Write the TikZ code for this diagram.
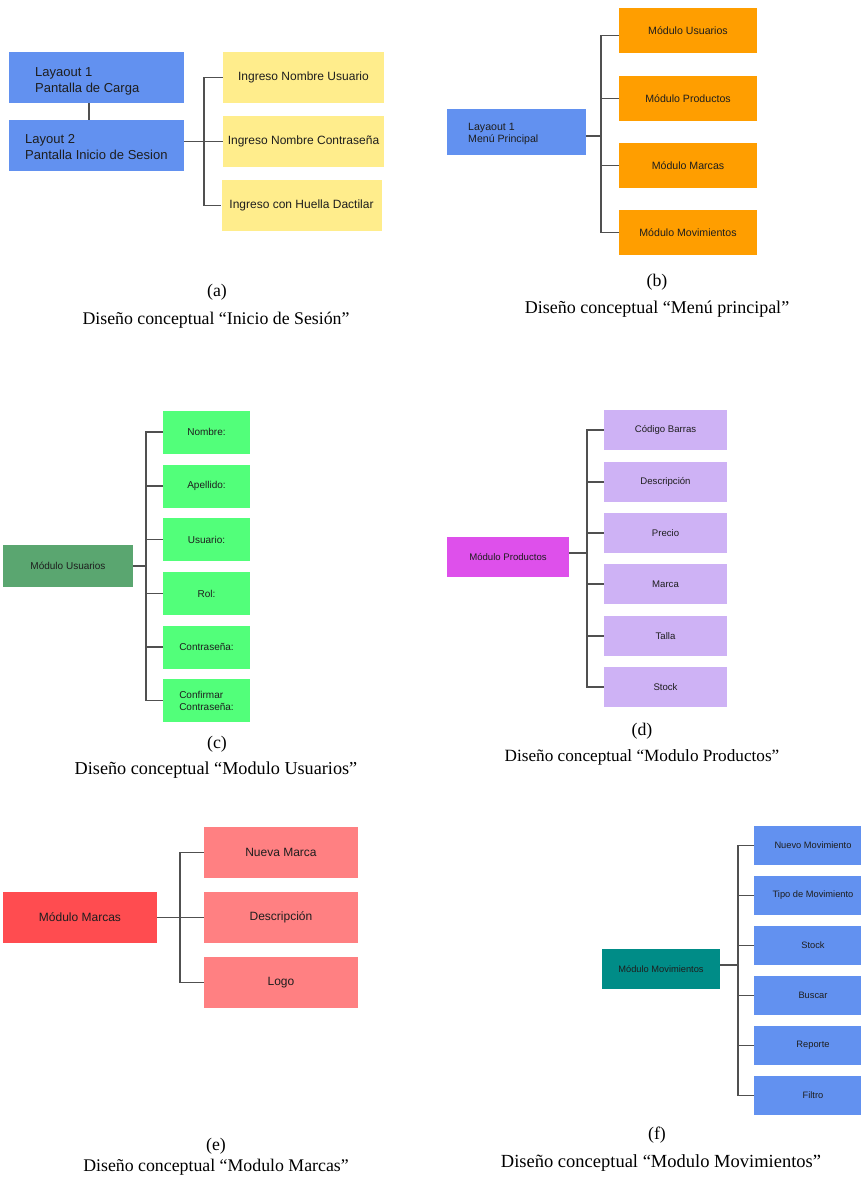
\documentclass[tikz,border=0pt]{standalone}
\usepackage{fontspec}
\setmainfont{Liberation Serif}
\setsansfont{Liberation Sans}
\usetikzlibrary{calc}
\definecolor{cblue}{RGB}{98,145,240}
\definecolor{cyellow}{RGB}{255,237,140}
\definecolor{corange}{RGB}{255,158,0}
\definecolor{cdgreen}{RGB}{90,166,112}
\definecolor{cgreen}{RGB}{82,255,122}
\definecolor{cmagenta}{RGB}{222,80,235}
\definecolor{clav}{RGB}{206,178,245}
\definecolor{cred}{RGB}{255,76,80}
\definecolor{cpink}{RGB}{255,128,130}
\definecolor{cteal}{RGB}{0,140,135}
\definecolor{linegray}{RGB}{80,80,80}
\definecolor{txt}{RGB}{30,30,30}
\begin{document}
\begin{tikzpicture}[x=1pt,y=-1pt,
  conn/.style={draw=linegray, line width=1.6pt},
  bx/.style={rectangle, inner sep=0pt, text=txt},
  fa/.style={font=\sffamily\fontsize{13}{16}\selectfont},
  fay/.style={font=\sffamily\fontsize{12}{14}\selectfont},
  fb/.style={font=\sffamily\fontsize{10.6}{12}\selectfont},
  fc/.style={font=\sffamily\fontsize{10}{12}\selectfont},
  fd/.style={font=\sffamily\fontsize{9.6}{12}\selectfont},
  fe/.style={font=\sffamily\fontsize{12}{14}\selectfont},
  ff/.style={font=\sffamily\fontsize{9.3}{12}\selectfont},
  capt/.style={font=\fontsize{17.8}{20}\selectfont, text=black, inner sep=0pt}]
\useasboundingbox[fill=white] (0,0) rectangle (861,1178);
\clip (0,0) rectangle (861,1178);

% ---------------- (a)
\node[bx, fill=cblue, minimum width=175, minimum height=51] (L1) at (96.5,77.5) {};
\node[bx, fa, anchor=west, align=left] (L1t) at (35,81) {Layaout 1\\Pantalla de Carga};
\node[bx, fill=cblue, minimum width=175, minimum height=51] (L2) at (96.5,145.5) {};
\node[bx, fa, anchor=west, align=left] (L2t) at (25,147) {Layout 2\\Pantalla Inicio de Sesion};
\node[bx, fay, fill=cyellow, minimum width=161, minimum height=51] (Y1) at (303.5,77.5) {Ingreso Nombre Usuario};
\node[bx, fay, fill=cyellow, minimum width=161, minimum height=51] (Y2) at (303.5,141.5) {Ingreso Nombre Contraseña};
\node[bx, fay, fill=cyellow, minimum width=160, minimum height=51] (Y3) at (301.5,205.5) {Ingreso con Huella Dactilar};
\draw[conn] ([xshift=-7.5]L1.south) -- ([xshift=-7.5]L2.north);
\draw[conn] (L2.east |- Y2.west) -- (Y2.west);
\draw[conn] (Y1.west) -- ++(-19,0) |- (Y3.west);
\node[capt] (capa) at (217,292) {(a)};
\node[capt] (capa2) at (216,320) {Diseño conceptual “Inicio de Sesión”};

% ---------------- (b)
\node[bx, fill=cblue, minimum width=139, minimum height=46] (M1) at (516.5,132) {};
\node[bx, fb, anchor=west, align=left] (M1t) at (468,134) {Layaout 1\\Menú Principal};
\node[bx, fb, fill=corange, minimum width=138, minimum height=45] (O1) at (688,30.5) {Módulo Usuarios};
\node[bx, fb, fill=corange, minimum width=138, minimum height=45] (O2) at (688,98.5) {Módulo Productos};
\node[bx, fb, fill=corange, minimum width=138, minimum height=45] (O3) at (688,165.5) {Módulo Marcas};
\node[bx, fb, fill=corange, minimum width=138, minimum height=45] (O4) at (688,232.5) {Módulo Movimientos};
\draw[conn] ([yshift=-4]M1.east) -- ++(15,0);
\draw[conn] ([yshift=-5]O1.west) -- ++(-18,0) |- (O4.west);
\draw[conn] (O2.west) -- ++(-18,0);
\draw[conn] (O3.west) -- ++(-18,0);
\node[capt] (capb) at (657,282) {(b)};
\node[capt, font=\fontsize{18}{20}\selectfont] (capb2) at (657,309) {Diseño conceptual “Menú principal”};

% ---------------- (c)
\node[bx, fc, fill=cdgreen, minimum width=130, minimum height=42] (MU) at (68,566) {Módulo Usuarios};
\node[bx, fc, fill=cgreen, minimum width=87, minimum height=43] (G1) at (206.5,432) {Nombre:};
\node[bx, fc, fill=cgreen, minimum width=87, minimum height=43] (G2) at (206.5,486) {Apellido:};
\node[bx, fc, fill=cgreen, minimum width=87, minimum height=43] (G3) at (206.5,539.5) {Usuario:};
\node[bx, fc, fill=cgreen, minimum width=87, minimum height=43] (G4) at (206.5,593.5) {Rol:};
\node[bx, fc, fill=cgreen, minimum width=87, minimum height=43] (G5) at (206.5,647) {Contraseña:};
\node[bx, fc, fill=cgreen, minimum width=87, minimum height=43, align=left] (G6) at (206.5,700.5) {Confirmar\\Contraseña:};
\draw[conn] (MU.east) -- ++(13,0);
\draw[conn] (G1.west) -- ++(-17,0) |- (G6.west);
\foreach \n in {G2,G3,G4,G5} \draw[conn] (\n.west) -- ++(-17,0);
\node[capt] (capc) at (217,744) {(c)};
\node[capt, font=\fontsize{18.2}{20}\selectfont] (capc2) at (216,770) {Diseño conceptual “Modulo Usuarios”};

% ---------------- (d)
\node[bx, fd, fill=cmagenta, minimum width=122, minimum height=40] (MP) at (508,557) {Módulo Productos};
\node[bx, fd, fill=clav, minimum width=123, minimum height=40] (P1) at (665.5,430) {Código Barras};
\node[bx, fd, fill=clav, minimum width=123, minimum height=40] (P2) at (665.5,482) {Descripción};
\node[bx, fd, fill=clav, minimum width=123, minimum height=40] (P3) at (665.5,533) {Precio};
\node[bx, fd, fill=clav, minimum width=123, minimum height=40] (P4) at (665.5,584) {Marca};
\node[bx, fd, fill=clav, minimum width=123, minimum height=40] (P5) at (665.5,636) {Talla};
\node[bx, fd, fill=clav, minimum width=123, minimum height=40] (P6) at (665.5,687) {Stock};
\draw[conn] ([yshift=4]MP.east) -- ++(18,0);
\draw[conn] (P1.west) -- ++(-17,0) |- (P6.west);
\foreach \n in {P2,P3,P4,P5} \draw[conn] (\n.west) -- ++(-17,0);
\node[capt] (capd) at (642,731) {(d)};
\node[capt, font=\fontsize{17.2}{20}\selectfont] (capd2) at (642,757) {Diseño conceptual “Modulo Productos”};

% ---------------- (e)
\node[bx, fe, fill=cred, minimum width=154, minimum height=51] (MM) at (80,917.5) {Módulo Marcas};
\node[bx, fe, fill=cpink, minimum width=154, minimum height=51] (R1) at (281,852.5) {Nueva Marca};
\node[bx, fe, fill=cpink, minimum width=154, minimum height=51] (R2) at (281,917.5) {Descripción};
\node[bx, fe, fill=cpink, minimum width=154, minimum height=51] (R3) at (281,982.5) {Logo};
\draw[conn] (MM.east) -- (R2.west);
\draw[conn] (R1.west) -- ++(-24,0) |- (R3.west);
\node[capt] (cape) at (216,1146) {(e)};
\node[capt] (cape2) at (216,1167) {Diseño conceptual “Modulo Marcas”};

% ---------------- (f)
\node[bx, ff, fill=cteal, minimum width=118, minimum height=40] (MV) at (661,969) {Módulo Movimientos};
\node[bx, ff, fill=cblue, minimum width=118, minimum height=39] (B1) at (813,845.5) {Nuevo Movimiento};
\node[bx, ff, fill=cblue, minimum width=118, minimum height=39] (B2) at (813,895.5) {Tipo de Movimiento};
\node[bx, ff, fill=cblue, minimum width=118, minimum height=39] (B3) at (813,945.5) {Stock};
\node[bx, ff, fill=cblue, minimum width=118, minimum height=39] (B4) at (813,995.5) {Buscar};
\node[bx, ff, fill=cblue, minimum width=118, minimum height=39] (B5) at (813,1045.5) {Reporte};
\node[bx, ff, fill=cblue, minimum width=118, minimum height=39] (B6) at (813,1095.5) {Filtro};
\draw[conn] ([yshift=4]MV.east) -- ++(18,0);
\draw[conn] (B1.west) -- ++(-16,0) |- (B6.west);
\foreach \n in {B2,B3,B4,B5} \draw[conn] (\n.west) -- ++(-16,0);
\node[capt] (capf) at (657,1135) {(f)};
\node[capt, font=\fontsize{18.5}{20}\selectfont] (capf2) at (661,1163) {Diseño conceptual “Modulo Movimientos”};
\end{tikzpicture}
\end{document}
